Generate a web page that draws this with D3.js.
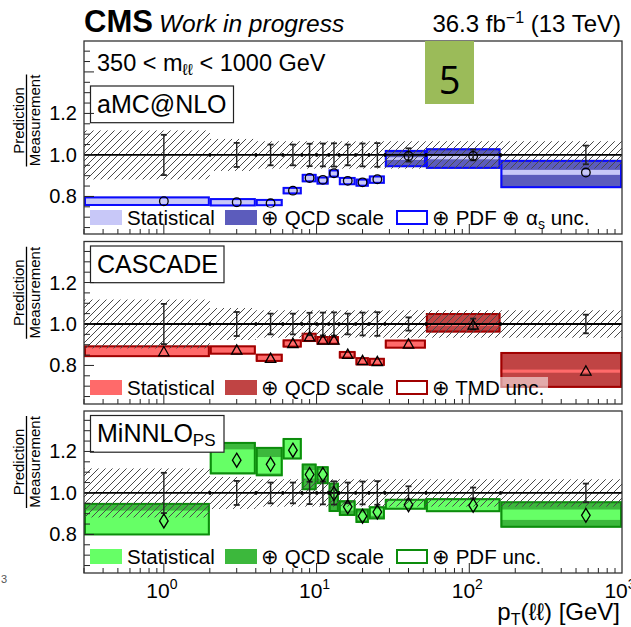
<!DOCTYPE html>
<html>
<head>
<meta charset="utf-8">
<script src="https://cdn.jsdelivr.net/npm/d3@7"></script>
<style>
  html, body { margin: 0; padding: 0; background: #fff; }
  svg { display: block; font-family: "Liberation Sans", Arial, Helvetica, sans-serif; }
</style>
</head>
<body>
<svg id="chart" width="631" height="627"></svg>
<script>
// pT(ll) binning of the 350 < m_ll < 1000 GeV mass window
const ptEdges = [0, 2, 4, 6, 8, 10, 12, 14, 18, 22, 28, 52, 160, 1000];

// measurement: error bars and hatched uncertainty band (relative, around 1)
const measErr  = [0.097, 0.058, 0.050, 0.050, 0.054, 0.055, 0.056, 0.050, 0.055, 0.057, 0.032, 0.026, 0.045];
const measBand = [0.118, 0.077, 0.066, 0.066, 0.066, 0.066, 0.066, 0.066, 0.066, 0.066, 0.066, 0.066, 0.066];

// aMC@NLO / measurement
const amcRatio   = [0.777, 0.772, 0.767, 0.828, 0.889, 0.880, 0.912, 0.875, 0.868, 0.883, 0.995, 0.995, 0.915];
const amcStatLo  = [0.757, 0.755, 0.756, 0.813, 0.871, 0.860, 0.894, 0.857, 0.850, 0.864, 0.976, 0.979, 0.904];
const amcStatHi  = [0.797, 0.789, 0.785, 0.843, 0.906, 0.893, 0.927, 0.891, 0.883, 0.898, 0.989, 0.995, 0.928];
const amcScaleLo = [0.755, 0.753, 0.754, 0.811, 0.869, 0.858, 0.892, 0.855, 0.848, 0.862, 0.941, 0.933, 0.840];
const amcScaleHi = [0.799, 0.791, 0.787, 0.845, 0.908, 0.895, 0.929, 0.893, 0.885, 0.900, 1.024, 1.032, 0.976];
const amcPdfLo   = [0.754, 0.752, 0.753, 0.810, 0.868, 0.857, 0.891, 0.854, 0.847, 0.861, 0.941, 0.933, 0.840];
const amcPdfHi   = [0.800, 0.792, 0.788, 0.846, 0.909, 0.896, 0.930, 0.894, 0.886, 0.901, 1.024, 1.032, 0.976];

// CASCADE / measurement
const casRatio   = [0.865, 0.873, 0.833, 0.905, 0.937, 0.921, 0.921, 0.852, 0.822, 0.817, 0.902, 0.994, 0.772];
const casStatLo  = [0.845, 0.857, 0.821, 0.890, 0.918, 0.905, 0.905, 0.838, 0.805, 0.803, 0.886, 0.990, 0.765];
const casStatHi  = [0.890, 0.892, 0.852, 0.921, 0.953, 0.937, 0.937, 0.865, 0.835, 0.832, 0.920, 0.998, 0.780];
const casScaleLo = [0.842, 0.854, 0.819, 0.888, 0.915, 0.902, 0.902, 0.835, 0.802, 0.800, 0.883, 0.959, 0.692];
const casScaleHi = [0.895, 0.895, 0.855, 0.924, 0.956, 0.940, 0.940, 0.868, 0.838, 0.835, 0.923, 1.053, 0.865];
const casTmdLo   = [0.840, 0.852, 0.817, 0.886, 0.913, 0.900, 0.900, 0.833, 0.800, 0.798, 0.881, 0.959, 0.692];
const casTmdHi   = [0.897, 0.897, 0.857, 0.926, 0.958, 0.942, 0.942, 0.870, 0.840, 0.837, 0.925, 1.053, 0.865];

// MiNNLO_PS / measurement
const mnlRatio   = [0.865, 1.158, 1.138, 1.206, 1.089, 1.089, 0.997, 0.933, 0.888, 0.908, 0.943, 0.940, 0.892];
const mnlStatLo  = [0.800, 1.100, 1.094, 1.170, 1.070, 1.070, 0.980, 0.915, 0.870, 0.890, 0.925, 0.915, 0.870];
const mnlStatHi  = [0.915, 1.210, 1.173, 1.260, 1.110, 1.110, 1.020, 0.950, 0.905, 0.925, 0.965, 0.965, 0.920];
const mnlScaleLo = [0.797, 1.091, 1.082, 1.163, 1.015, 1.044, 0.910, 0.891, 0.857, 0.874, 0.921, 0.909, 0.834];
const mnlScaleHi = [0.950, 1.244, 1.220, 1.263, 1.140, 1.127, 1.048, 0.963, 0.923, 0.934, 0.970, 0.973, 0.958];
const mnlPdfLo   = [0.795, 1.089, 1.080, 1.161, 1.013, 1.042, 0.908, 0.889, 0.855, 0.872, 0.919, 0.907, 0.832];
const mnlPdfHi   = [0.952, 1.246, 1.222, 1.265, 1.142, 1.129, 1.050, 0.965, 0.925, 0.936, 0.972, 0.975, 0.960];

// axis settings
const xDomain = [0.3, 1000];
const xTickLabels = [1, 10, 100, 1000];
const yTickLabels = [0.8, 1.0, 1.2];
const yDomains = [[0.619, 1.549], [0.614, 1.398], [0.614, 1.395]];

const svg = d3.select("#chart");
const left = 84, right = 622;
const panelBox = [
  { top: 41, bottom: 234 },
  { top: 241.5, bottom: 404 },
  { top: 411, bottom: 573 }
];

const x = d3.scaleLog().domain(xDomain).range([left, right]);

// hatch pattern for the measurement uncertainty
const defs = svg.append("defs");
const pat = defs.append("pattern")
  .attr("id", "hatch").attr("patternUnits", "userSpaceOnUse")
  .attr("width", 7).attr("height", 7);
pat.append("path")
  .attr("d", "M-1,1 l2,-2 M0,7 l7,-7 M6,8 l2,-2")
  .attr("stroke", "#4a4a4a").attr("stroke-width", 1);

const models = [
  {
    name: "aMC@NLO", sub: null,
    ratio: amcRatio, statLo: amcStatLo, statHi: amcStatHi,
    scaleLo: amcScaleLo, scaleHi: amcScaleHi, uncLo: amcPdfLo, uncHi: amcPdfHi,
    cStat: "#c8c8f8", cScale: "#5c5cbc", cUnc: "#0a0aff", marker: "circle",
    legend3: [["⊕ PDF ⊕ α", ""], ["s", "sub"], [" unc.", "up"]],
    boxW: 143
  },
  {
    name: "CASCADE", sub: null,
    ratio: casRatio, statLo: casStatLo, statHi: casStatHi,
    scaleLo: casScaleLo, scaleHi: casScaleHi, uncLo: casTmdLo, uncHi: casTmdHi,
    cStat: "#ff6a6a", cScale: "#c04444", cUnc: "#a00000", marker: "triangle",
    legend3: [["⊕ TMD unc.", ""]],
    boxW: 133.5
  },
  {
    name: "MiNNLO", sub: "PS",
    ratio: mnlRatio, statLo: mnlStatLo, statHi: mnlStatHi,
    scaleLo: mnlScaleLo, scaleHi: mnlScaleHi, uncLo: mnlPdfLo, uncHi: mnlPdfHi,
    cStat: "#66ff66", cScale: "#3cb83c", cUnc: "#0c8c0c", marker: "diamond",
    legend3: [["⊕ PDF unc.", ""]],
    boxW: 133.5
  }
];

const bins = d3.range(ptEdges.length - 1).map(i => ({
  i, lo: ptEdges[i], hi: ptEdges[i + 1], mid: (ptEdges[i] + ptEdges[i + 1]) / 2
}));
const xl = b => x(Math.max(b.lo, xDomain[0]));
const xh = b => x(b.hi);

models.forEach((m, p) => {
  const pb = panelBox[p];
  const y = d3.scaleLinear().domain(yDomains[p]).range([pb.bottom, pb.top]);
  const g = svg.append("g");
  const clipId = "clip" + p;
  defs.append("clipPath").attr("id", clipId)
    .append("rect").attr("x", left).attr("y", pb.top)
    .attr("width", right - left).attr("height", pb.bottom - pb.top);
  const plot = g.append("g").attr("clip-path", `url(#${clipId})`);

  // prediction bands: stat (+) scale, stat, and the full envelope outline
  plot.selectAll(".scale").data(bins).join("rect")
    .attr("x", xl).attr("width", b => xh(b) - xl(b))
    .attr("y", b => y(m.scaleHi[b.i])).attr("height", b => y(m.scaleLo[b.i]) - y(m.scaleHi[b.i]))
    .attr("fill", m.cScale);
  plot.selectAll(".stat").data(bins).join("rect")
    .attr("x", xl).attr("width", b => xh(b) - xl(b))
    .attr("y", b => y(m.statHi[b.i])).attr("height", b => y(m.statLo[b.i]) - y(m.statHi[b.i]))
    .attr("fill", m.cStat);
  plot.selectAll(".unc").data(bins).join("rect")
    .attr("x", b => xl(b) + 1).attr("width", b => xh(b) - xl(b) - 2)
    .attr("y", b => y(m.uncHi[b.i]) + 1).attr("height", b => y(m.uncLo[b.i]) - y(m.uncHi[b.i]) - 2)
    .attr("fill", "none").attr("stroke", m.cUnc).attr("stroke-width", 2);

  // measurement uncertainty (hatched)
  plot.selectAll(".band").data(bins).join("rect")
    .attr("x", xl).attr("width", b => xh(b) - xl(b))
    .attr("y", b => y(1 + measBand[b.i])).attr("height", b => y(1 - measBand[b.i]) - y(1 + measBand[b.i]))
    .attr("fill", "url(#hatch)");

  // reference line at 1
  plot.append("line").attr("x1", left).attr("x2", right)
    .attr("y1", y(1)).attr("y2", y(1)).attr("stroke", "#000").attr("stroke-width", 1.8);

  // measurement error bars with caps, and bin-edge marks
  const eb = plot.selectAll(".eb").data(bins).join("g");
  eb.append("line")
    .attr("x1", b => x(b.mid)).attr("x2", b => x(b.mid))
    .attr("y1", b => y(1 + measErr[b.i])).attr("y2", b => y(1 - measErr[b.i]))
    .attr("stroke", "#222").attr("stroke-width", 1.4);
  [1, -1].forEach(s => {
    eb.append("line")
      .attr("x1", b => x(b.mid) - 3).attr("x2", b => x(b.mid) + 3)
      .attr("y1", b => y(1 + s * measErr[b.i])).attr("y2", b => y(1 + s * measErr[b.i]))
      .attr("stroke", "#222").attr("stroke-width", 1.8);
  });
  plot.selectAll(".edge").data(ptEdges.slice(1, -1)).join("rect")
    .attr("x", d => x(d) - 1).attr("y", y(1) - 1.8).attr("width", 2.2).attr("height", 3.6)
    .attr("fill", "#000");

  // prediction markers
  const mk = plot.selectAll(".mk").data(bins).join("path")
    .attr("transform", b => `translate(${x(b.mid)},${y(m.ratio[b.i])})`)
    .attr("fill", "none").attr("stroke", "#000").attr("stroke-width", 1.3);
  if (m.marker === "circle") mk.attr("d", "M-4.3,0a4.3,4.3 0 1,0 8.6,0a4.3,4.3 0 1,0 -8.6,0");
  if (m.marker === "triangle") mk.attr("d", "M0,-5.5L5.2,3.8L-5.2,3.8Z");
  if (m.marker === "diamond") mk.attr("d", "M0,-7L4.3,0L0,7L-4.3,0Z");

  // legend
  const ly = pb.bottom - 16.5;
  const lg = g.append("g");
  lg.append("rect").attr("x", 88).attr("y", ly - 10.5)
    .attr("width", p === 0 ? 515 : 460).attr("height", 24)
    .attr("fill", "#fff").attr("fill-opacity", 0.55);
  lg.append("rect").attr("x", 90).attr("y", ly - 7.5).attr("width", 32).attr("height", 15).attr("fill", m.cStat);
  lg.append("rect").attr("x", 225).attr("y", ly - 7.5).attr("width", 32).attr("height", 15).attr("fill", m.cScale);
  lg.append("rect").attr("x", 397).attr("y", ly - 6.5).attr("width", 30).attr("height", 13)
    .attr("fill", "#fff").attr("stroke", m.cUnc).attr("stroke-width", 2);
  const lt = lg.append("g").attr("font-size", 20.5).attr("fill", "#000");
  lt.append("text").attr("x", 127).attr("y", ly + 7).text("Statistical");
  lt.append("text").attr("x", 261).attr("y", ly + 7).text("⊕ QCD scale");
  const t3 = lt.append("text").attr("x", 432).attr("y", ly + 7);
  m.legend3.forEach(([s, k]) => {
    const ts = t3.append("tspan").text(s);
    if (k === "sub") ts.attr("font-size", 14).attr("dy", 4);
    if (k === "up") ts.attr("dy", -4);
  });

  // model label box
  const lbTop = p === 0 ? 86 : pb.top + 4.5;
  g.append("rect").attr("x", 90.5).attr("y", lbTop).attr("width", m.boxW).attr("height", 36.7)
    .attr("fill", "#fff").attr("stroke", "#222").attr("stroke-width", 1.2);
  const lbt = g.append("text").attr("x", 97).attr("y", lbTop + 26.5).attr("font-size", 25).text(m.name);
  if (m.sub) lbt.append("tspan").attr("font-size", 17).attr("dy", 4).text(m.sub);

  // y axis ticks and labels
  const yMinor = d3.range(0.65, yDomains[p][1], 0.05);
  g.selectAll(".ytm").data(yMinor).join("line")
    .attr("x1", left).attr("x2", d => left + (Math.abs(d * 5 - Math.round(d * 5)) < 1e-6 ? 10 : 6))
    .attr("y1", d => y(d)).attr("y2", d => y(d))
    .attr("stroke", "#222").attr("stroke-width", 1);
  g.selectAll(".ytl").data(yTickLabels).join("text")
    .attr("x", 77).attr("y", d => y(d) + 7).attr("text-anchor", "end")
    .attr("font-size", 20).text(d => d3.format(".1f")(d));

  // x axis ticks on the bottom edge
  const xt = [];
  [0.1, 1, 10, 100].forEach(dec => d3.range(1, 10).forEach(k => {
    const v = dec * k;
    if (v >= xDomain[0] && v <= xDomain[1]) xt.push(v);
  }));
  g.selectAll(".xt").data(xt).join("line")
    .attr("x1", d => x(d)).attr("x2", d => x(d))
    .attr("y1", pb.bottom).attr("y2", d => pb.bottom - (xTickLabels.includes(d) ? 10 : 5))
    .attr("stroke", "#222").attr("stroke-width", 1);

  // frame
  g.append("rect").attr("x", left).attr("y", pb.top).attr("width", right - left)
    .attr("height", pb.bottom - pb.top).attr("fill", "none")
    .attr("stroke", "#333").attr("stroke-width", 1.3);

  // y axis title
  const cy = (pb.top + pb.bottom) / 2 - (p === 0 ? 17 : 30);
  const yt = g.append("g").attr("transform", `translate(0,${cy})`);
  yt.append("text").attr("transform", "translate(24,0) rotate(-90)")
    .attr("text-anchor", "middle").attr("font-size", 15).text("Prediction");
  yt.append("line").attr("x1", 26.5).attr("x2", 26.5).attr("y1", -46).attr("y2", 46)
    .attr("stroke", "#000").attr("stroke-width", 1.3);
  yt.append("text").attr("transform", "translate(40,0) rotate(-90)")
    .attr("text-anchor", "middle").attr("font-size", 15).text("Measurement");
});

// right-align a text made of several tspans so that its ink ends at xr
function alignRight(sel, xr) {
  sel.attr("x", 0);
  const bb = sel.node().getBBox();
  sel.attr("x", xr - (bb.x + bb.width));
}

// x tick labels (bottom panel)
const xlab = svg.append("g").attr("font-size", 21);
xTickLabels.forEach(v => {
  const t = xlab.append("text").attr("x", x(v) - 2).attr("y", 598).attr("text-anchor", "middle");
  t.append("tspan").text("10");
  t.append("tspan").attr("font-size", 14).attr("dy", -9).text(String(Math.round(Math.log10(v))));
});
svg.append("text").attr("x", 1).attr("y", 583).attr("font-size", 11).attr("fill", "#555").text("3");

// x axis title
const xtt = svg.append("text").attr("y", 620).attr("font-size", 24);
xtt.append("tspan").text("p");
xtt.append("tspan").attr("font-size", 16).attr("dy", 5).text("T");
xtt.append("tspan").attr("dy", -5).text("(ℓℓ) [GeV]");
alignRight(xtt, 620);

// header
svg.append("text").attr("x", 84).attr("y", 32).attr("font-size", 31).attr("font-weight", "bold").text("CMS");
svg.append("text").attr("x", 159).attr("y", 32).attr("font-size", 24.5).attr("font-style", "italic").text("Work in progress");
const lumi = svg.append("text").attr("y", 32).attr("font-size", 24);
lumi.append("tspan").text("36.3 fb");
lumi.append("tspan").attr("font-size", 16).attr("dy", -9).text("−1");
lumi.append("tspan").attr("dy", 9).text(" (13 TeV)");
alignRight(lumi, 621);

// mass window label
const mw = svg.append("text").attr("x", 97).attr("y", 71).attr("font-size", 23.5);
mw.append("tspan").text("350 < m");
mw.append("tspan").attr("font-size", 16).attr("dy", 4).text("ℓℓ");
mw.append("tspan").attr("dy", -4).text(" < 1000 GeV");

// page number tag
svg.append("rect").attr("x", 425).attr("y", 41).attr("width", 49).attr("height", 63).attr("fill", "#9bbb59");
svg.append("text").attr("x", 449.5).attr("y", 94).attr("text-anchor", "middle")
  .attr("font-family", "'Open Sans', 'Noto Sans', sans-serif").attr("font-size", 38).text("5");
</script>
</body>
</html>
